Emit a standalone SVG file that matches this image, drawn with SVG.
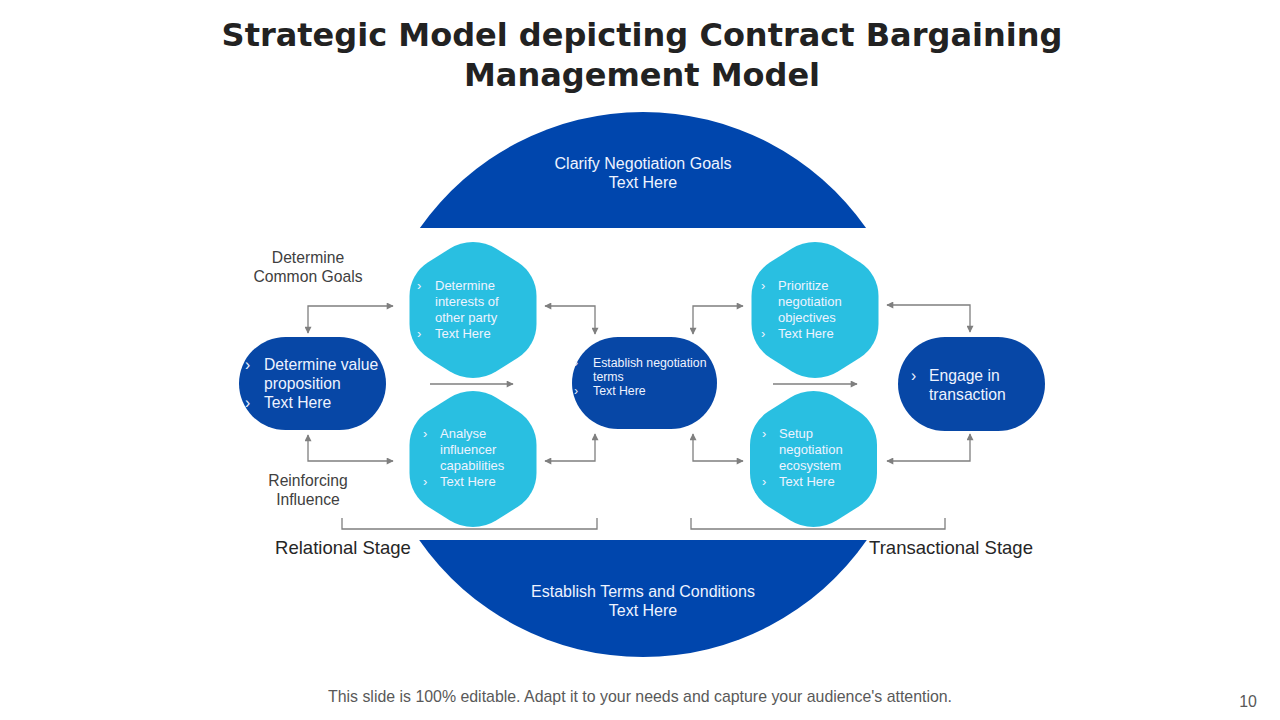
<svg xmlns="http://www.w3.org/2000/svg" width="1280" height="720" viewBox="0 0 1280 720">
<style>
.title{font-family:"DejaVu Sans","Liberation Sans",sans-serif;font-weight:bold;font-size:32px;fill:#222222;text-anchor:middle}
.seg{fill:#0046AD}
.oval{fill:#0747A6}
.hex{fill:#29BFE1}
.wt{font-family:"Liberation Sans",Arial,sans-serif;fill:#EEF3FF}
.c15{font-size:16px;text-anchor:middle}
.lbl{font-family:"Liberation Sans",Arial,sans-serif;font-size:15.7px;fill:#404040;text-anchor:middle}
.stage{font-family:"Liberation Sans",Arial,sans-serif;font-size:18.5px;fill:#262626;text-anchor:middle}
.s12{font-size:13px}
.s12c{font-size:12.3px}
.s15{font-size:15.7px}
.con{fill:none;stroke:#7F7F7F;stroke-width:1.3}
.foot{font-family:"Liberation Sans",Arial,sans-serif;font-size:15.9px;fill:#595959}
</style>
<defs>
<marker id="ah" viewBox="0 0 10 10" refX="9" refY="5" markerWidth="8" markerHeight="7" markerUnits="userSpaceOnUse" orient="auto-start-reverse">
<path d="M0,0 L10,5 L0,10 Z" fill="#7F7F7F"/>
</marker>
<path id="hexshape" d="M-23.44,-61.24 A44,44 0 0 1 23.44,-61.24 L44.89,-47.73 A40,40 0 0 1 63.5,-14 L63.5,14 A40,40 0 0 1 44.89,47.73 L23.44,61.24 A44,44 0 0 1 -23.44,61.24 L-44.89,47.73 A40,40 0 0 1 -63.5,14 L-63.5,-14 A40,40 0 0 1 -44.89,-47.73 Z"/>
</defs>
<rect width="1280" height="720" fill="#FFFFFF"/>
<g id="title">
<text class="title" x="642" y="46">Strategic Model depicting Contract Bargaining</text>
<text class="title" x="642" y="86">Management Model</text>
</g>
<g id="clarify-goals">
<path class="seg" d="M419.9,228 A272.5,272.5 0 0 1 866.1,228 Z"/>
<text class="wt c15" x="643" y="169">Clarify Negotiation Goals</text>
<text class="wt c15" x="643" y="188">Text Here</text>
</g>
<g id="establish-terms-conditions">
<path class="seg" d="M419.2,540 L866.8,540 A272.5,272.5 0 0 1 419.2,540 Z"/>
<text class="wt c15" x="643" y="597">Establish Terms and Conditions</text>
<text class="wt c15" x="643" y="616">Text Here</text>
</g>
<g id="connectors">
<path class="con" d="M308,333 L308,306 L393,306" marker-start="url(#ah)" marker-end="url(#ah)"/>
<path class="con" d="M308,435 L308,461 L393,461" marker-start="url(#ah)" marker-end="url(#ah)"/>
<path class="con" d="M430,384 L513,384" marker-end="url(#ah)"/>
<path class="con" d="M545,306 L595,306 L595,334" marker-start="url(#ah)" marker-end="url(#ah)"/>
<path class="con" d="M545,461 L595,461 L595,434" marker-start="url(#ah)" marker-end="url(#ah)"/>
<path class="con" d="M693,334 L693,306 L743,306" marker-start="url(#ah)" marker-end="url(#ah)"/>
<path class="con" d="M693,434 L693,461 L743,461" marker-start="url(#ah)" marker-end="url(#ah)"/>
<path class="con" d="M773,384 L857,384" marker-end="url(#ah)"/>
<path class="con" d="M887,305 L970,305 L970,332" marker-start="url(#ah)" marker-end="url(#ah)"/>
<path class="con" d="M887,461 L970,461 L970,434" marker-start="url(#ah)" marker-end="url(#ah)"/>
<path class="con" d="M342,518 L342,529 L597,529 L597,518"/>
<path class="con" d="M691,518 L691,529 L945,529 L945,518"/>
</g>
<g id="determine-value">
<rect class="oval" x="239" y="337" width="147" height="93" rx="46.5"/>
<text class="wt s15" x="245" y="370">›</text>
<text class="wt s15" x="264" y="370">Determine value</text>
<text class="wt s15" x="264" y="389">proposition</text>
<text class="wt s15" x="245" y="408">›</text>
<text class="wt s15" x="264" y="408">Text Here</text>
</g>
<g id="determine-interests">
<use href="#hexshape" class="hex" transform="translate(473,310)"/>
<text class="wt s12" x="417" y="290">›</text>
<text class="wt s12" x="435" y="290">Determine</text>
<text class="wt s12" x="435" y="306">interests of</text>
<text class="wt s12" x="435" y="322">other party</text>
<text class="wt s12" x="417" y="338">›</text>
<text class="wt s12" x="435" y="338">Text Here</text>
</g>
<g id="analyse-influencer">
<use href="#hexshape" class="hex" transform="translate(473,459)"/>
<text class="wt s12" x="423" y="438">›</text>
<text class="wt s12" x="440" y="438">Analyse</text>
<text class="wt s12" x="440" y="454">influencer</text>
<text class="wt s12" x="440" y="470">capabilities</text>
<text class="wt s12" x="423" y="486">›</text>
<text class="wt s12" x="440" y="486">Text Here</text>
</g>
<g id="establish-negotiation">
<rect class="oval" x="572" y="337" width="145" height="92" rx="46"/>
<text class="wt s12c" x="574" y="367">›</text>
<text class="wt s12c" x="593" y="367">Establish negotiation</text>
<text class="wt s12c" x="593" y="381">terms</text>
<text class="wt s12c" x="574" y="395">›</text>
<text class="wt s12c" x="593" y="395">Text Here</text>
</g>
<g id="prioritize-objectives">
<use href="#hexshape" class="hex" transform="translate(815,310)"/>
<text class="wt s12" x="761" y="290">›</text>
<text class="wt s12" x="778" y="290">Prioritize</text>
<text class="wt s12" x="778" y="306">negotiation</text>
<text class="wt s12" x="778" y="322">objectives</text>
<text class="wt s12" x="761" y="338">›</text>
<text class="wt s12" x="778" y="338">Text Here</text>
</g>
<g id="setup-ecosystem">
<use href="#hexshape" class="hex" transform="translate(813.5,459)"/>
<text class="wt s12" x="762" y="438">›</text>
<text class="wt s12" x="779" y="438">Setup</text>
<text class="wt s12" x="779" y="454">negotiation</text>
<text class="wt s12" x="779" y="470">ecosystem</text>
<text class="wt s12" x="762" y="486">›</text>
<text class="wt s12" x="779" y="486">Text Here</text>
</g>
<g id="engage-transaction">
<rect class="oval" x="898" y="337" width="147" height="94" rx="47"/>
<text class="wt s15" x="911" y="381">›</text>
<text class="wt s15" x="929" y="381">Engage in</text>
<text class="wt s15" x="929" y="400">transaction</text>
</g>
<g id="labels">
<text class="lbl" x="308" y="263">Determine</text>
<text class="lbl" x="308" y="282">Common Goals</text>
<text class="lbl" x="308" y="486">Reinforcing</text>
<text class="lbl" x="308" y="505">Influence</text>
<text class="stage" x="343" y="554">Relational Stage</text>
<text class="stage" x="951" y="554">Transactional Stage</text>
</g>
<g id="footer">
<text class="foot" x="640" y="702" text-anchor="middle">This slide is 100% editable. Adapt it to your needs and capture your audience's attention.</text>
<text class="foot" x="1248" y="707" text-anchor="middle">10</text>
</g>
</svg>
